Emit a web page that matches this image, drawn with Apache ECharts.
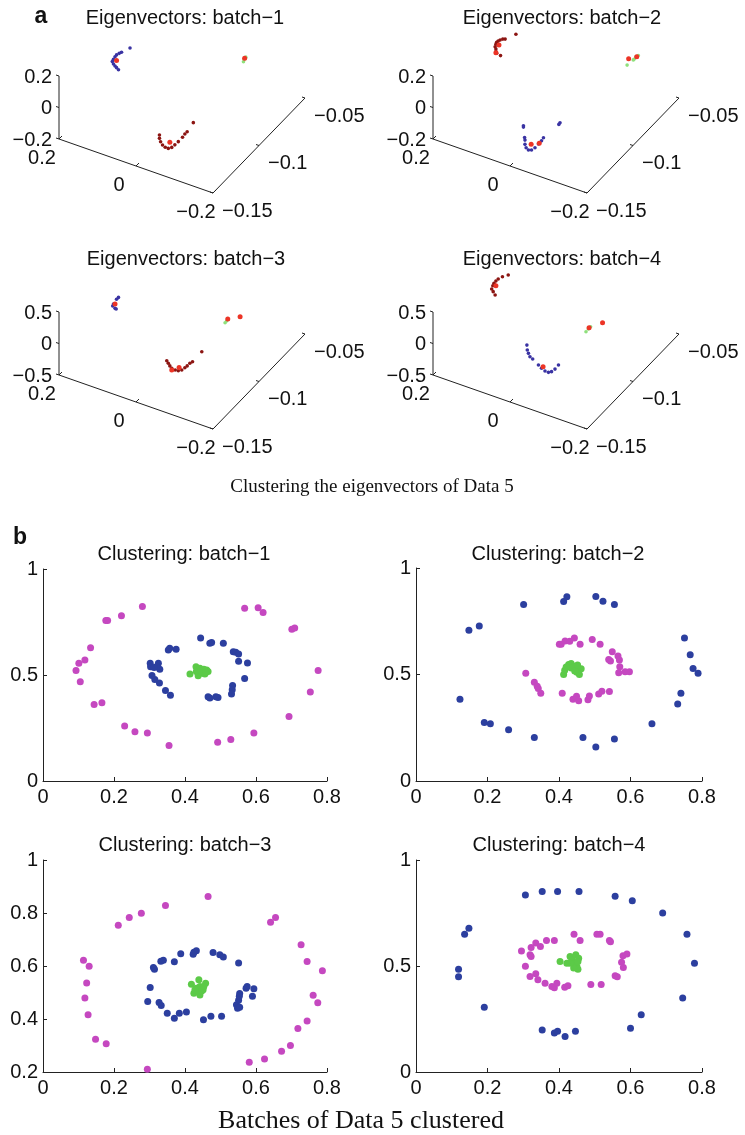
<!DOCTYPE html>
<html><head><meta charset="utf-8">
<script src="https://cdn.jsdelivr.net/npm/echarts@6/dist/echarts.min.js"></script>
<style>html,body{margin:0;padding:0;background:#fff}#c{width:745px;height:1135px}</style>
</head><body><div id="c"></div>
<script>
const FONT = '"Liberation Sans", Arial, Helvetica, sans-serif';
const SERIF = '"Liberation Serif", "Times New Roman", serif';

// ---------- Panel a: eigenvector embeddings, points as [v2, v1, v3] ----------
const A_TICKS = [0.2, 0, -0.2];
const B_TICKS = [-0.15, -0.1, -0.05];
const Z_TICKS_A12 = [-0.2, 0, 0.2];
const Z_TICKS_A34 = [-0.5, 0, 0.5];

const EV1_BLUE = [[0.135,-0.1,0.132],[0.157,-0.1,0.086],[0.163,-0.1,0.074],[0.170,-0.1,0.058],[0.174,-0.1,0.043],[0.178,-0.1,0.023],[0.181,-0.1,0.006],[0.178,-0.1,-0.007],[0.174,-0.1,-0.016],[0.170,-0.1,-0.023],[0.165,-0.1,-0.032]];
const EV1_DARK = [[-0.125,-0.14,0.122],[-0.109,-0.14,0.051],[-0.103,-0.14,0.031],[-0.097,-0.14,0.005],[-0.086,-0.14,-0.032],[-0.077,-0.14,-0.060],[-0.069,-0.14,-0.083],[-0.060,-0.14,-0.097],[-0.052,-0.14,-0.097],[-0.045,-0.14,-0.088],[-0.040,-0.14,-0.072],[-0.037,-0.14,-0.053],[-0.037,-0.14,-0.032]];
const EV1_GREEN = [[-0.094,-0.07,0.089],[-0.090,-0.07,0.072],[-0.088,-0.07,0.055],[-0.092,-0.07,0.079]];
const EV1_RED = [[0.170,-0.1,0.022],[-0.091,-0.07,0.079],[-0.064,-0.14,-0.055]];

const EV2_DARK = [[0.128,-0.09,0.165],[0.156,-0.09,0.110],[0.162,-0.09,0.105],[0.169,-0.09,0.093],[0.174,-0.09,0.083],[0.178,-0.09,0.071],[0.180,-0.09,0.057],[0.182,-0.09,0.039],[0.180,-0.09,0.026],[0.180,-0.09,0.010],[0.178,-0.09,0.001],[0.168,-0.09,-0.005]];
const EV2_GREEN = [[-0.142,-0.07,0.140],[-0.136,-0.07,0.126],[-0.131,-0.07,0.107],[-0.129,-0.07,0.101],[-0.113,-0.07,0.055]];
const EV2_BLUE = [[-0.011,-0.14,0.004],[-0.011,-0.14,-0.004],[-0.106,-0.14,0.105],[-0.103,-0.14,0.092],[-0.063,-0.14,-0.027],[-0.058,-0.14,-0.051],[-0.050,-0.14,-0.078],[-0.041,-0.14,-0.109],[-0.032,-0.14,-0.131],[-0.024,-0.14,-0.138],[-0.018,-0.14,-0.129],[-0.015,-0.14,-0.110],[-0.015,-0.14,-0.083],[-0.014,-0.14,-0.068]];
const EV2_RED = [[0.172,-0.09,0.059],[0.180,-0.09,0.003],[-0.117,-0.07,0.099],[-0.138,-0.07,0.130],[-0.031,-0.14,-0.095],[-0.052,-0.14,-0.071]];

const EV3_BLUE = [[0.165,-0.1,0.053],[0.170,-0.1,0.013],[0.178,-0.1,-0.081],[0.180,-0.1,-0.116],[0.174,-0.1,-0.140],[0.171,-0.1,-0.145]];
const EV3_GREEN = [[-0.096,-0.09,0.114],[-0.092,-0.09,0.079],[-0.088,-0.09,0.041]];
const EV3_DARK = [[-0.147,-0.14,0.462],[-0.123,-0.14,0.252],[-0.116,-0.14,0.213],[-0.109,-0.14,0.156],[-0.103,-0.14,0.114],[-0.095,-0.14,0.060],[-0.086,-0.14,0.030],[-0.078,-0.14,0.024],[-0.069,-0.14,0.032],[-0.064,-0.14,0.059],[-0.060,-0.14,0.092],[-0.056,-0.14,0.125]];
const EV3_RED = [[0.174,-0.1,-0.071],[-0.095,-0.09,0.116],[-0.127,-0.09,0.221],[-0.088,-0.14,0.087],[-0.069,-0.14,0.005]];

const EV4_DARK = [[0.148,-0.09,0.294],[0.163,-0.09,0.234],[0.174,-0.09,0.175],[0.180,-0.09,0.131],[0.185,-0.09,0.083],[0.188,-0.09,0.038],[0.191,-0.09,-0.020],[0.187,-0.09,-0.054],[0.182,-0.09,-0.097]];
const EV4_GREEN = [[-0.066,-0.09,-0.068],[-0.060,-0.09,-0.117],[-0.054,-0.09,-0.173]];
const EV4_BLUE = [[-0.020,-0.14,0.295],[-0.021,-0.14,0.220],[-0.024,-0.14,0.173],[-0.028,-0.14,0.128],[-0.035,-0.14,0.106],[-0.050,-0.14,0.043],[-0.058,-0.14,0.010],[-0.067,-0.14,-0.014],[-0.076,-0.14,-0.017],[-0.084,-0.14,0.011],[-0.093,-0.14,0.071],[-0.102,-0.14,0.154]];
const EV4_RED = [[0.180,-0.09,0.056],[-0.062,-0.09,-0.092],[-0.097,-0.09,0.063],[-0.062,-0.14,0.043]];

// ---------- Panel b: clustered batches [x, y] ----------
const B1_MAGENTA = [[0.280,0.823],[0.221,0.779],[0.177,0.757],[0.182,0.757],[0.134,0.628],[0.118,0.571],[0.101,0.555],[0.093,0.521],[0.105,0.468],[0.144,0.361],[0.166,0.369],[0.230,0.260],[0.259,0.232],[0.294,0.226],[0.355,0.167],[0.492,0.183],[0.529,0.196],[0.594,0.226],[0.693,0.304],[0.753,0.420],[0.775,0.521],[0.701,0.716],[0.709,0.722],[0.568,0.815],[0.606,0.817],[0.620,0.795]];
const B1_BLUE = [[0.444,0.674],[0.470,0.650],[0.475,0.653],[0.508,0.650],[0.536,0.610],[0.543,0.607],[0.551,0.599],[0.551,0.565],[0.576,0.557],[0.568,0.484],[0.534,0.450],[0.533,0.431],[0.531,0.410],[0.493,0.394],[0.487,0.397],[0.465,0.397],[0.470,0.391],[0.359,0.405],[0.345,0.427],[0.328,0.462],[0.315,0.479],[0.307,0.498],[0.329,0.527],[0.325,0.555],[0.320,0.539],[0.302,0.555],[0.303,0.539],[0.313,0.535],[0.353,0.618],[0.357,0.626],[0.375,0.621]];
const B1_GREEN = [[0.414,0.505],[0.431,0.539],[0.437,0.524],[0.442,0.532],[0.447,0.508],[0.451,0.516],[0.456,0.505],[0.461,0.524],[0.465,0.516],[0.437,0.497],[0.432,0.516],[0.453,0.527],[0.444,0.520],[0.458,0.512]];

const B2_BLUE = [[0.301,0.829],[0.413,0.843],[0.422,0.865],[0.503,0.866],[0.523,0.844],[0.555,0.829],[0.148,0.708],[0.177,0.728],[0.751,0.671],[0.767,0.593],[0.775,0.528],[0.789,0.506],[0.741,0.412],[0.732,0.362],[0.660,0.269],[0.555,0.197],[0.503,0.160],[0.467,0.204],[0.331,0.204],[0.259,0.241],[0.208,0.269],[0.191,0.275],[0.123,0.384]];
const B2_MAGENTA = [[0.401,0.642],[0.406,0.642],[0.417,0.657],[0.430,0.656],[0.443,0.671],[0.459,0.642],[0.493,0.664],[0.515,0.642],[0.549,0.607],[0.539,0.571],[0.544,0.563],[0.565,0.587],[0.569,0.568],[0.570,0.536],[0.567,0.508],[0.585,0.513],[0.597,0.513],[0.307,0.506],[0.331,0.464],[0.339,0.445],[0.342,0.434],[0.349,0.412],[0.409,0.412],[0.439,0.384],[0.449,0.398],[0.455,0.377],[0.481,0.382],[0.485,0.399],[0.511,0.409],[0.520,0.421],[0.541,0.420]];
const B2_GREEN = [[0.413,0.500],[0.416,0.520],[0.427,0.547],[0.434,0.552],[0.441,0.539],[0.447,0.531],[0.455,0.524],[0.462,0.527],[0.457,0.500],[0.450,0.511],[0.434,0.531],[0.444,0.516],[0.420,0.535],[0.452,0.545]];

const B3_MAGENTA = [[0.465,0.862],[0.345,0.828],[0.277,0.799],[0.243,0.783],[0.212,0.754],[0.114,0.622],[0.130,0.599],[0.123,0.536],[0.118,0.479],[0.127,0.416],[0.148,0.324],[0.178,0.307],[0.294,0.210],[0.581,0.237],[0.624,0.249],[0.672,0.278],[0.697,0.300],[0.718,0.364],[0.744,0.392],[0.774,0.461],[0.761,0.490],[0.787,0.582],[0.744,0.617],[0.727,0.680],[0.641,0.765],[0.655,0.783]];
const B3_BLUE = [[0.425,0.652],[0.432,0.658],[0.423,0.644],[0.479,0.651],[0.498,0.642],[0.508,0.634],[0.551,0.611],[0.388,0.646],[0.370,0.616],[0.339,0.622],[0.332,0.618],[0.311,0.594],[0.314,0.588],[0.302,0.519],[0.295,0.466],[0.327,0.462],[0.333,0.451],[0.350,0.422],[0.370,0.403],[0.384,0.422],[0.404,0.426],[0.452,0.397],[0.473,0.410],[0.503,0.410],[0.545,0.454],[0.551,0.471],[0.553,0.486],[0.554,0.496],[0.548,0.441],[0.554,0.444],[0.572,0.516],[0.575,0.523],[0.590,0.486],[0.594,0.514]];
const B3_GREEN = [[0.418,0.531],[0.439,0.548],[0.458,0.535],[0.425,0.497],[0.432,0.516],[0.442,0.523],[0.451,0.510],[0.442,0.491],[0.437,0.504],[0.447,0.506],[0.428,0.510],[0.453,0.523]];

const B4_BLUE = [[0.306,0.835],[0.353,0.851],[0.396,0.851],[0.456,0.851],[0.557,0.829],[0.605,0.808],[0.690,0.750],[0.758,0.650],[0.779,0.513],[0.746,0.349],[0.630,0.270],[0.600,0.206],[0.446,0.192],[0.417,0.168],[0.396,0.192],[0.387,0.184],[0.353,0.198],[0.191,0.306],[0.119,0.485],[0.119,0.449],[0.136,0.650],[0.148,0.678]];
const B4_MAGENTA = [[0.295,0.571],[0.322,0.587],[0.335,0.608],[0.348,0.592],[0.319,0.553],[0.322,0.545],[0.365,0.620],[0.387,0.620],[0.442,0.650],[0.459,0.620],[0.506,0.650],[0.515,0.650],[0.541,0.620],[0.544,0.614],[0.579,0.548],[0.590,0.557],[0.575,0.518],[0.580,0.493],[0.557,0.454],[0.563,0.449],[0.306,0.499],[0.319,0.451],[0.335,0.463],[0.341,0.435],[0.361,0.419],[0.380,0.403],[0.387,0.397],[0.394,0.419],[0.416,0.400],[0.425,0.407],[0.489,0.413],[0.518,0.413]];
const B4_GREEN = [[0.403,0.521],[0.431,0.545],[0.436,0.529],[0.445,0.513],[0.450,0.498],[0.453,0.485],[0.441,0.490],[0.431,0.513],[0.447,0.553],[0.455,0.537],[0.453,0.521],[0.422,0.513]];

// ---------- layout / style ----------
const C3 = { blue: '#3a33a3', dark: '#8c1512', green: '#8fe07c', red: '#ec3426' };
const C2 = { blue: '#2c3f9f', magenta: '#c548c0', green: '#5cca48' };

const A_LIM = [-0.2, 0.2], B_LIM = [-0.15, -0.05];
const VIEW = { ox: 59, oy: 139, ea: [154, 54], eb: [92, -95], ec: [0, -63] };
function project(p, zLim) {
  const a = (A_LIM[1] - p[0]) / (A_LIM[1] - A_LIM[0]);
  const b = (p[1] - B_LIM[0]) / (B_LIM[1] - B_LIM[0]);
  const c = (p[2] - zLim[0]) / (zLim[1] - zLim[0]);
  return [VIEW.ox + VIEW.ea[0] * a + VIEW.eb[0] * b + VIEW.ec[0] * c,
          VIEW.oy + VIEW.ea[1] * a + VIEW.eb[1] * b + VIEW.ec[1] * c];
}
function fmt(v) { return (v < 0 ? '\u2212' : '') + String(Math.abs(v)); }

const P3 = [
  { title: 'Eigenvectors: batch\u22121', pos: [0, 0], tpos: [185, 18], zLim: [-0.2, 0.2], zTicks: Z_TICKS_A12, sets: [['blue', EV1_BLUE], ['dark', EV1_DARK], ['green', EV1_GREEN], ['red', EV1_RED]] },
  { title: 'Eigenvectors: batch\u22122', pos: [374, 0], tpos: [562, 18], zLim: [-0.2, 0.2], zTicks: Z_TICKS_A12, sets: [['blue', EV2_BLUE], ['dark', EV2_DARK], ['green', EV2_GREEN], ['red', EV2_RED]] },
  { title: 'Eigenvectors: batch\u22123', pos: [0, 236], tpos: [186, 259], zLim: [-0.5, 0.5], zTicks: Z_TICKS_A34, sets: [['blue', EV3_BLUE], ['dark', EV3_DARK], ['green', EV3_GREEN], ['red', EV3_RED]] },
  { title: 'Eigenvectors: batch\u22124', pos: [374, 236], tpos: [562, 259], zLim: [-0.5, 0.5], zTicks: Z_TICKS_A34, sets: [['blue', EV4_BLUE], ['dark', EV4_DARK], ['green', EV4_GREEN], ['red', EV4_RED]] }
];
const P2 = [
  { title: 'Clustering: batch\u22121', grid: { left: 43, top: 569, width: 284, height: 212 }, tpos: [184, 554], y: [0, 1, 0.5], sets: [['magenta', B1_MAGENTA], ['blue', B1_BLUE], ['green', B1_GREEN]] },
  { title: 'Clustering: batch\u22122', grid: { left: 416, top: 568, width: 286, height: 213 }, tpos: [558, 554], y: [0, 1, 0.5], sets: [['blue', B2_BLUE], ['magenta', B2_MAGENTA], ['green', B2_GREEN]] },
  { title: 'Clustering: batch\u22123', grid: { left: 43, top: 860, width: 284, height: 212 }, tpos: [185, 845], y: [0.2, 1, 0.2], sets: [['magenta', B3_MAGENTA], ['blue', B3_BLUE], ['green', B3_GREEN]] },
  { title: 'Clustering: batch\u22124', grid: { left: 416, top: 860, width: 286, height: 212 }, tpos: [559, 845], y: [0, 1, 0.5], sets: [['blue', B4_BLUE], ['magenta', B4_MAGENTA], ['green', B4_GREEN]] }
];

const grids = [], xAxes = [], yAxes = [], series = [], graphics = [];
const textEl = (t, x, y, size, fam, weight) => ({ type: 'text', x, y, silent: true,
  style: { text: t, font: (weight || 'normal') + ' ' + size + 'px ' + fam, fill: '#111', align: 'center', verticalAlign: 'middle' } });

P3.forEach((p, i) => {
  grids.push({ left: p.pos[0], top: p.pos[1], width: 371, height: 230, outerBoundsMode: 'none' });
  xAxes.push({ type: 'value', gridIndex: i, min: 0, max: 371, show: false });
  yAxes.push({ type: 'value', gridIndex: i, min: 0, max: 230, inverse: true, show: false });
  const zl = p.zLim;
  series.push({ type: 'line', xAxisIndex: i, yAxisIndex: i, symbol: 'none', silent: true, animation: false,
    lineStyle: { color: '#222', width: 1 },
    data: [project([A_LIM[1], B_LIM[0], zl[1]], zl), project([A_LIM[1], B_LIM[0], zl[0]], zl),
           project([A_LIM[0], B_LIM[0], zl[0]], zl), project([A_LIM[0], B_LIM[1], zl[0]], zl)] });
  const ticks = [];
  A_TICKS.forEach(v => ticks.push({ p: project([v, B_LIM[0], zl[0]], zl), d: [3, -3], o: [-17, 19], align: 'center', text: fmt(v) }));
  B_TICKS.forEach(v => ticks.push({ p: project([A_LIM[0], v, zl[0]], zl), d: [-3, -1], o: [9, 18], align: 'left', text: fmt(v) }));
  p.zTicks.forEach(v => ticks.push({ p: project([A_LIM[1], B_LIM[0], v], zl), d: [-3, -1], o: [-7, 1], align: 'right', text: fmt(v) }));
  series.push({ type: 'custom', xAxisIndex: i, yAxisIndex: i, silent: true, animation: false,
    data: ticks.map(t => t.p),
    renderItem: (params, api) => {
      const t = ticks[params.dataIndex];
      const c = api.coord([api.value(0), api.value(1)]);
      return { type: 'group', children: [
        { type: 'line', shape: { x1: c[0], y1: c[1], x2: c[0] + t.d[0], y2: c[1] + t.d[1] }, style: { stroke: '#222', lineWidth: 1 } },
        { type: 'text', x: c[0] + t.o[0], y: c[1] + t.o[1], style: { text: t.text, font: '20px ' + FONT, fill: '#111', align: t.align, verticalAlign: 'middle' } }
      ] };
    } });
  p.sets.forEach(([k, pts]) => {
    series.push({ type: 'scatter', xAxisIndex: i, yAxisIndex: i, silent: true, animation: false,
      symbolSize: k === 'red' ? 5 : 3.6, itemStyle: { color: C3[k], opacity: 1 },
      data: pts.map(q => project(q, zl)) });
  });
  graphics.push(textEl(p.title, p.tpos[0], p.tpos[1], 20, FONT));
});

P2.forEach((p, j) => {
  const i = P3.length + j;
  grids.push(Object.assign({ outerBoundsMode: 'none' }, p.grid));
  xAxes.push({ type: 'value', gridIndex: i, min: 0, max: 0.8, interval: 0.2,
    axisLine: { show: true, onZero: false, lineStyle: { color: '#222', width: 1 } },
    axisTick: { show: true, inside: true, length: 4, lineStyle: { color: '#222' } },
    axisLabel: { fontSize: 20, fontFamily: FONT, color: '#111', margin: 6 },
    splitLine: { show: false } });
  yAxes.push({ type: 'value', gridIndex: i, min: p.y[0], max: p.y[1], interval: p.y[2],
    axisLine: { show: true, onZero: false, lineStyle: { color: '#222', width: 1 } },
    axisTick: { show: true, inside: true, length: 4, lineStyle: { color: '#222' } },
    axisLabel: { fontSize: 20, fontFamily: FONT, color: '#111', margin: 5 },
    splitLine: { show: false } });
  p.sets.forEach(([k, pts]) => {
    series.push({ type: 'scatter', xAxisIndex: i, yAxisIndex: i, silent: true, animation: false,
      symbolSize: 7, itemStyle: { color: C2[k], opacity: 1 }, data: pts });
  });
  graphics.push(textEl(p.title, p.tpos[0], p.tpos[1], 20, FONT));
});

graphics.push(textEl('a', 41, 17, 23, FONT, 'bold'));
graphics.push(textEl('b', 20, 538, 23, FONT, 'bold'));
graphics.push(textEl('Clustering the eigenvectors of Data 5', 372, 487, 19, SERIF));
graphics.push(textEl('Batches of Data 5 clustered', 361, 1121, 26, SERIF));

const chart = echarts.init(document.getElementById('c'), null, { renderer: 'canvas' });
chart.setOption({
  backgroundColor: '#fff', animation: false,
  grid: grids, xAxis: xAxes, yAxis: yAxes, series, graphic: graphics
});
</script></body></html>
